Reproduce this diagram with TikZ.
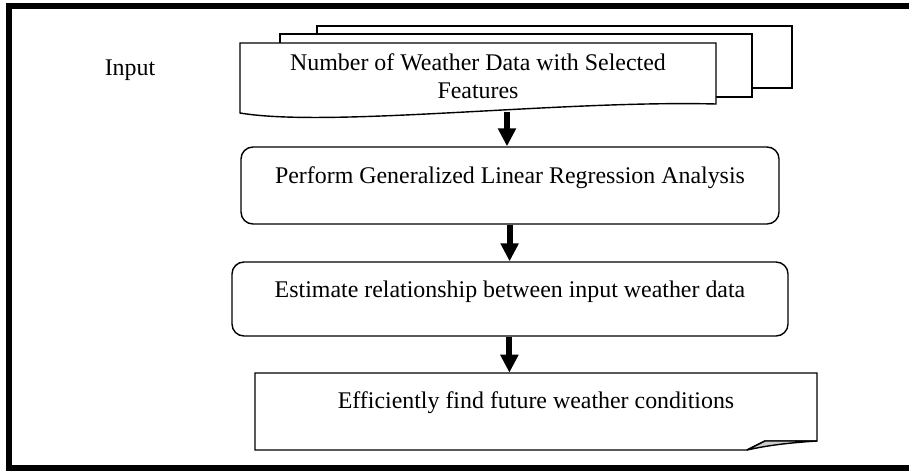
\documentclass[tikz,border=0pt]{standalone}
\usepackage{fontspec}
\setmainfont{Liberation Serif}
\usetikzlibrary{arrows.meta,calc}
\tikzset{
  stepbox/.style={draw=black,line width=0.8pt,rounded corners=6.8pt,inner sep=0pt},
  flowarrow/.style={line width=3.4pt,-{Triangle[width=9.8pt,length=10.2pt]}},
  page/.style={draw=black,fill=white,line width=0.8pt}
}
\begin{document}
\begin{tikzpicture}[scale=0.2]
        \tikzstyle{every node}+=[inner sep=0pt,font=\fontsize{13.6}{16}\selectfont]
        \clip (0,0) rectangle (90.9,-47.1);
        \useasboundingbox (0,0) rectangle (90.9,-47.1);
        % outer frame
        \draw [black,line width=3.4pt] (0.9,-0.6) rectangle (95,-46.8);
        \node [anchor=base] (input) at (13.0,-7.5) {Input};
        % stack of pages
        \draw [page] (31.7,-2.6) rectangle (79.2,-8.8);
        \draw [page] (28.0,-3.4) rectangle (75.2,-9.7);
        \draw [page] (24.0,-4.3) -- (71.6,-4.3) -- (71.6,-10.4)
              .. controls (56,-10.0) and (33,-12.8) .. (24.0,-11.3) -- cycle;
        \node [align=center] (data) at (47.8,-7.6) {Number of Weather Data with Selected\\Features};
        \coordinate (wave) at (50.7,-11.2);
        % steps
        \node [stepbox,minimum width=10.76cm,text height=0.72cm,text depth=0.82cm] (regress) at (51.0,-18.55)
              {Perform Generalized Linear Regression Analysis};
        \node [stepbox,minimum width=11.12cm,text height=0.70cm,text depth=0.78cm] (estimate) at (51.0,-29.9)
              {Estimate relationship between input weather data};
        % output page with curled corner
        \draw [page] (25.5,-37.3) -- (81.7,-37.3) -- (81.7,-44.1) -- (76.5,-44.1) -- (74.7,-45.0) -- (25.5,-45.0) -- cycle;
        \draw [black,fill=black!20,line width=0.8pt] (74.7,-45.0) -- (76.5,-44.1) -- (81.7,-44.1)
              .. controls (78.5,-44.3) and (76.5,-44.6) .. (74.7,-45.0);
        \node [minimum width=11.24cm,text height=0.70cm,text depth=0.84cm] (future) at (53.6,-41.15)
              {Efficiently find future weather conditions};
        % arrows
        \draw [flowarrow] (wave) -- (wave |- regress.north);
        \draw [flowarrow] ([xshift=-0.04cm]regress.south) -- ([xshift=-0.04cm]estimate.north);
        \draw [flowarrow] ([xshift=-0.06cm]estimate.south) -- ([xshift=-0.06cm]estimate.south |- future.north);
\end{tikzpicture}
\end{document}
